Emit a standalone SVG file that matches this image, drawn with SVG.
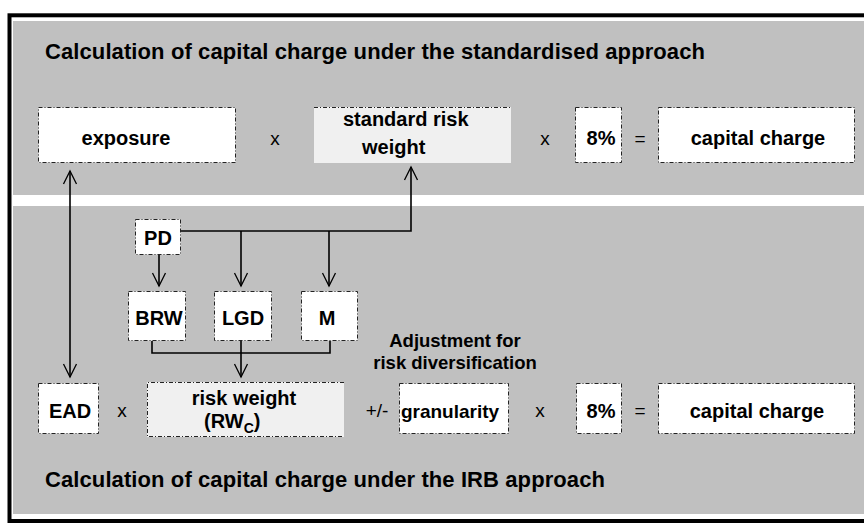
<svg xmlns="http://www.w3.org/2000/svg" width="864" height="527" viewBox="0 0 864 527">
<style>
.t{font-family:"Liberation Sans",Arial,sans-serif;font-weight:bold;fill:#000}
.r{font-family:"Liberation Sans",Arial,sans-serif;font-weight:normal;fill:#000}
.box{fill:#fff;stroke:#222;stroke-width:1;stroke-dasharray:4 2 1 2}
.lbox{fill:#f0f0f0;stroke:none}
.dl{fill:none;stroke:#222;stroke-width:1;stroke-dasharray:4 2 1 2}
.c{fill:none;stroke:#000;stroke-width:1.6}
</style>
<defs>
<marker id="v" viewBox="-15 -8 17 16" refX="0" refY="0" markerWidth="17" markerHeight="16" markerUnits="userSpaceOnUse" orient="auto-start-reverse">
<path d="M-13,-6.5 L0,0 L-13,6.5" fill="none" stroke="#000" stroke-width="1.3"/>
</marker>
</defs>
<rect x="0" y="0" width="864" height="527" fill="#fff"/>
<rect x="9.5" y="15.3" width="900" height="505.7" fill="#fff" stroke="#000" stroke-width="4"/>
<rect x="13" y="21" width="851" height="174" fill="#c0c0c0"/>
<rect x="13" y="206" width="851" height="308" fill="#c0c0c0"/>

<text class="t" x="45" y="59" font-size="22" textLength="660" lengthAdjust="spacing">Calculation of capital charge under the standardised approach</text>
<text class="t" x="45" y="487" font-size="22" textLength="560" lengthAdjust="spacing">Calculation of capital charge under the IRB approach</text>

<g id="connectors">
<line class="c" x1="70" y1="171" x2="70" y2="377" marker-start="url(#v)" marker-end="url(#v)"/>
<path class="c" d="M181,231 H411 V167" marker-end="url(#v)"/>
<path class="c" d="M159,255 V286" marker-end="url(#v)"/>
<path class="c" d="M241,231 V286" marker-end="url(#v)"/>
<path class="c" d="M329,231 V286" marker-end="url(#v)"/>
<path class="c" d="M152,341 V353 H330 V341"/>
<path class="c" d="M241,341 V377" marker-end="url(#v)"/>
</g>

<g id="exposure"><rect class="box" x="38.5" y="107.5" width="197" height="55"/><text class="t" x="126" y="145" font-size="20" text-anchor="middle">exposure</text></g>
<text class="r" x="275" y="145" font-size="19" text-anchor="middle">x</text>
<g id="standard-risk-weight"><rect class="lbox" x="314" y="107" width="197" height="56"/><line class="dl" x1="314" y1="107.5" x2="511" y2="107.5"/><text class="t" x="343" y="126" font-size="20">standard risk</text><text class="t" x="362" y="154" font-size="20">weight</text></g>
<text class="r" x="545" y="145" font-size="19" text-anchor="middle">x</text>
<g id="pct-top"><rect class="box" x="575.5" y="107.5" width="46" height="55"/><text class="t" x="601" y="145" font-size="20" text-anchor="middle">8%</text></g>
<text class="r" x="640" y="145" font-size="19" text-anchor="middle">=</text>
<g id="capital-top"><rect class="box" x="658.5" y="107.5" width="196" height="55"/><text class="t" x="758" y="145" font-size="20" text-anchor="middle">capital charge</text></g>

<g id="pd"><rect class="box" x="135.5" y="219.5" width="45" height="35"/><text class="t" x="158" y="245" font-size="20" text-anchor="middle">PD</text></g>
<g id="brw"><rect class="box" x="128.5" y="291.5" width="57" height="49"/><text class="t" x="159" y="325" font-size="20" text-anchor="middle">BRW</text></g>
<g id="lgd"><rect class="box" x="214.5" y="291.5" width="57" height="49"/><text class="t" x="243" y="325" font-size="20" text-anchor="middle">LGD</text></g>
<g id="m"><rect class="box" x="301.5" y="291.5" width="56" height="49"/><text class="t" x="327" y="325" font-size="20" text-anchor="middle">M</text></g>

<g id="ead"><rect class="box" x="38.5" y="383.5" width="60" height="50"/><text class="t" x="70" y="418" font-size="20" text-anchor="middle">EAD</text></g>
<text class="r" x="122" y="417" font-size="19" text-anchor="middle">x</text>
<g id="risk-weight"><rect class="lbox" x="147" y="382" width="197" height="55"/><path class="dl" d="M344,382.5 H147.5 V436.5 H344"/><text class="t" x="244" y="405" font-size="20" text-anchor="middle">risk weight</text><text class="t" x="204" y="428" font-size="20">(RW<tspan font-size="14" dy="5">C</tspan><tspan dy="-5">)</tspan></text></g>
<text class="r" x="377" y="417" font-size="19" text-anchor="middle">+/-</text>
<text class="t" x="455" y="347" font-size="18.5" text-anchor="middle">Adjustment for</text>
<text class="t" x="455" y="369" font-size="18.5" text-anchor="middle">risk diversification</text>
<g id="granularity"><rect class="box" x="399.5" y="383.5" width="109" height="50"/><text class="t" x="450" y="418" font-size="19" text-anchor="middle">granularity</text></g>
<text class="r" x="540" y="417" font-size="19" text-anchor="middle">x</text>
<g id="pct-bottom"><rect class="box" x="576.5" y="383.5" width="45" height="50"/><text class="t" x="601" y="418" font-size="20" text-anchor="middle">8%</text></g>
<text class="r" x="640" y="417" font-size="19" text-anchor="middle">=</text>
<g id="capital-bottom"><rect class="box" x="658.5" y="383.5" width="196" height="50"/><text class="t" x="757" y="418" font-size="20" text-anchor="middle">capital charge</text></g>
</svg>
